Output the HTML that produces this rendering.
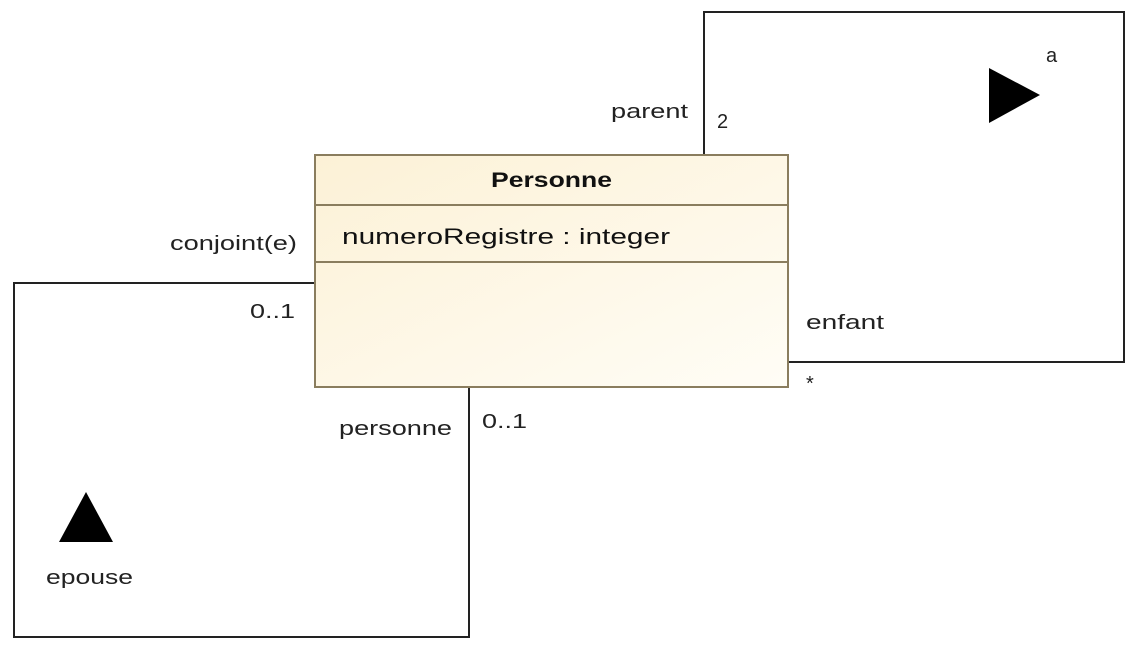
<!DOCTYPE html>
<html><head><meta charset="utf-8"><style>
body{margin:0;background:#fff;}
svg{display:block;font-family:"Liberation Sans",sans-serif;}
</style></head><body>
<svg width="1137" height="651" viewBox="0 0 1137 651" xmlns="http://www.w3.org/2000/svg">
<defs>
<linearGradient id="g" x1="0" y1="0" x2="1" y2="1">
<stop offset="0" stop-color="#fcf1d6"/><stop offset="1" stop-color="#fffdf6"/>
</linearGradient>
</defs>
<g fill="none" stroke="#222" stroke-width="2">
<polyline points="314,283 14,283 14,637 469,637 469,388"/>
<polyline points="704,154 704,12 1124,12 1124,362 789,362"/>
</g>
<rect x="315" y="155" width="473" height="232" fill="url(#g)" stroke="#8a7d5e" stroke-width="2"/>
<line x1="315" y1="205" x2="788" y2="205" stroke="#8a7d5e" stroke-width="2"/>
<line x1="315" y1="262" x2="788" y2="262" stroke="#8a7d5e" stroke-width="2"/>
<text x="491" y="187" font-size="21" font-weight="bold" fill="#111" textLength="121" lengthAdjust="spacingAndGlyphs">Personne</text>
<text x="342" y="244" font-size="22" fill="#111" textLength="328" lengthAdjust="spacingAndGlyphs">numeroRegistre : integer</text>
<polygon points="989,68 1040,95 989,123" fill="#000"/>
<polygon points="86,492 113,542 59,542" fill="#000"/>
<g font-size="20" fill="#222" lengthAdjust="spacingAndGlyphs">
<text x="1046" y="62">a</text>
<text x="611" y="118" textLength="77" lengthAdjust="spacingAndGlyphs">parent</text>
<text x="717" y="128">2</text>
<text x="170" y="250" textLength="127" lengthAdjust="spacingAndGlyphs">conjoint(e)</text>
<text x="250" y="318" textLength="45" lengthAdjust="spacingAndGlyphs">0..1</text>
<text x="806" y="329" textLength="78" lengthAdjust="spacingAndGlyphs">enfant</text>
<text x="806" y="390">*</text>
<text x="339" y="435" textLength="113" lengthAdjust="spacingAndGlyphs">personne</text>
<text x="482" y="428" textLength="45" lengthAdjust="spacingAndGlyphs">0..1</text>
<text x="46" y="584" textLength="87" lengthAdjust="spacingAndGlyphs">epouse</text>
</g>
</svg>
</body></html>
